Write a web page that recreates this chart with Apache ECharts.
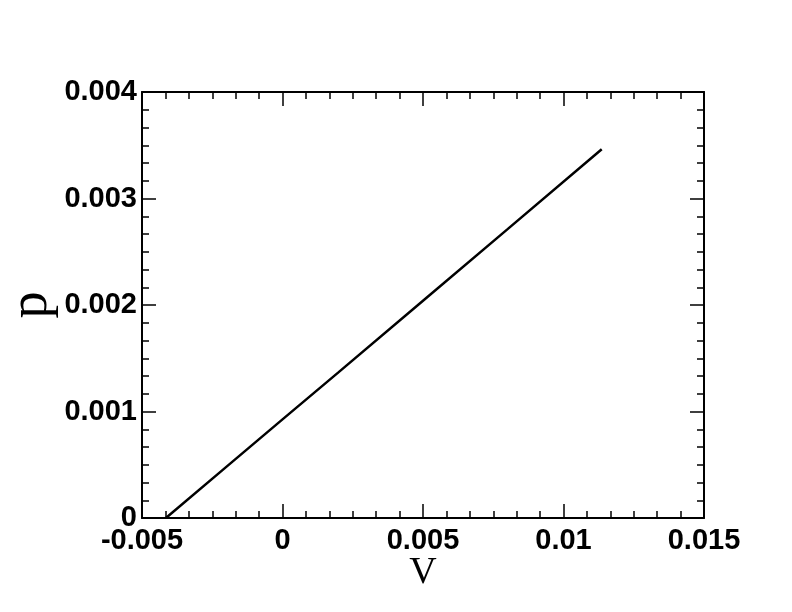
<!DOCTYPE html>
<html>
<head>
<meta charset="utf-8">
<script src="https://cdn.jsdelivr.net/npm/echarts@6/dist/echarts.min.js"></script>
<style>html,body{margin:0;padding:0;background:#fff;}#c{width:792px;height:612px;}</style>
</head>
<body>
<div id="c"></div>
<script>
var vValues = [-0.00415, -0.002, 0, 0.002, 0.005, 0.008, 0.01136];
var pValues = [0, 0.00048, 0.000926, 0.00137, 0.00204, 0.00271, 0.003462];
var xTitle = 'V';
var yTitle = 'p';

var chart = echarts.init(document.getElementById('c'));
var tickStyle = {show: true, inside: true, length: 14, lineStyle: {color: '#000', width: 1.5}};
var minorStyle = {show: true, splitNumber: 6, length: 7, lineStyle: {color: '#000', width: 1.5}};
var lineStyle = {show: true, onZero: false, lineStyle: {color: '#000', width: 2}};
var labelFont = {fontFamily: 'Liberation Sans, Arial, sans-serif', fontWeight: 'bold', fontSize: 29, color: '#000'};
var data = vValues.map(function (v, i) { return [v, pValues[i]]; });

chart.setOption({
  animation: false,
  backgroundColor: '#fff',
  grid: {left: 142, right: 88, top: 92, bottom: 94, containLabel: false, outerBoundsMode: 'none'},
  xAxis: [{
    type: 'value', min: -0.005, max: 0.015, interval: 0.005, position: 'bottom',
    axisLine: lineStyle, axisTick: tickStyle, minorTick: minorStyle,
    splitLine: {show: false},
    axisLabel: Object.assign({margin: 8}, labelFont),
    name: xTitle, nameLocation: 'middle', nameGap: 36, nameMoveOverlap: false,
    nameTextStyle: {fontFamily: 'Liberation Serif, Times New Roman, serif', fontSize: 38, color: '#000', verticalAlign: 'top'}
  }, {
    type: 'value', min: -0.005, max: 0.015, interval: 0.005, position: 'top',
    axisLine: lineStyle, axisTick: tickStyle, minorTick: minorStyle,
    splitLine: {show: false}, axisLabel: {show: false}
  }],
  yAxis: [{
    type: 'value', min: 0, max: 0.004, interval: 0.001, position: 'left',
    axisLine: lineStyle, axisTick: tickStyle, minorTick: minorStyle,
    splitLine: {show: false},
    axisLabel: Object.assign({margin: 5}, labelFont),
    name: yTitle, nameLocation: 'middle', nameGap: 110, nameRotate: 90, nameMoveOverlap: false,
    nameTextStyle: {fontFamily: 'Liberation Serif, Times New Roman, serif', fontSize: 54, color: '#000', verticalAlign: 'middle', align: 'center'}
  }, {
    type: 'value', min: 0, max: 0.004, interval: 0.001, position: 'right',
    axisLine: lineStyle, axisTick: tickStyle, minorTick: minorStyle,
    splitLine: {show: false}, axisLabel: {show: false}
  }],
  series: [{
    type: 'line', data: data, symbol: 'none', showSymbol: false,
    lineStyle: {color: '#000', width: 2.5}, xAxisIndex: 0, yAxisIndex: 0
  }]
});
</script>
</body>
</html>
